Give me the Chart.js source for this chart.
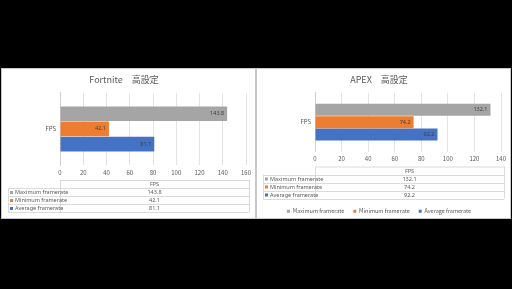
<!DOCTYPE html>
<html>
<head>
<meta charset="utf-8">
<script src="https://cdn.jsdelivr.net/npm/chart.js@4.4.1/dist/chart.umd.min.js"></script>
<style>
html, body { margin: 0; background: #000; width: 512px; height: 289px; overflow: hidden; }
.panel { position: absolute; top: 68px; width: 253px; height: 149px; background: #fff; border: 1px solid #c8c8c8; overflow: hidden; }
#p1 { left: 1px; }
#p2 { left: 256px; }
canvas { display: block; }
</style>
</head>
<body>
<div class="panel" id="p1"><canvas id="c1" width="253" height="149"></canvas></div>
<div class="panel" id="p2"><canvas id="c2" width="253" height="155"></canvas></div>
<script>
const category = ["FPS"];
const seriesNames = ["Maximum framerate", "Minimum framerate", "Average framerate"];
const seriesColors = ["#a5a5a5", "#ed7d31", "#4472c4"];
const fortniteValues = [143.8, 42.1, 81.1];
const apexValues = [132.1, 74.2, 92.2];
const fortniteTicks = [0, 20, 40, 60, 80, 100, 120, 140, 160];
const apexTicks = [0, 20, 40, 60, 80, 100, 120, 140];

Chart.defaults.font.family = '"Noto Sans CJK JP", "Noto Sans", sans-serif';
Chart.defaults.color = "#595959";

// value labels at the inner end of each bar
const barLabels = {
    id: "barLabels",
    afterDatasetsDraw(chart) {
        const ctx = chart.ctx;
        ctx.save();
        ctx.font = '5.5px "Noto Sans", sans-serif';
        ctx.fillStyle = "#404040";
        ctx.textAlign = "right";
        ctx.textBaseline = "middle";
        chart.data.datasets.forEach((ds, i) => {
            chart.getDatasetMeta(i).data.forEach((bar, j) => {
                ctx.fillText(ds.data[j].toFixed(1), bar.x - 3, bar.y);
            });
        });
        ctx.restore();
    }
};

// data table under the x axis
const dataTable = {
    id: "dataTable",
    afterDraw(chart) {
        const ctx = chart.ctx;
        const area = chart.chartArea;
        const top = chart.scales.x.top + 15;
        const rh = 8;
        const L = 6, M = area.left, R = area.right + 3;
        const rows = chart.data.datasets.length;
        ctx.save();
        ctx.strokeStyle = "#dadada";
        ctx.lineWidth = 1;
        ctx.beginPath();
        ctx.moveTo(M, top + 0.5); ctx.lineTo(R, top + 0.5);
        for (let i = 1; i <= rows + 1; i++) {
            const y = Math.round(top + rh * i) + 0.5;
            ctx.moveTo(L, y); ctx.lineTo(R, y);
        }
        ctx.moveTo(L + 0.5, top + rh); ctx.lineTo(L + 0.5, top + rh * (rows + 1));
        ctx.moveTo(Math.round(M) + 0.5, top); ctx.lineTo(Math.round(M) + 0.5, top + rh * (rows + 1));
        ctx.moveTo(Math.round(R) + 0.5, top); ctx.lineTo(Math.round(R) + 0.5, top + rh * (rows + 1));
        ctx.stroke();

        ctx.font = '5.5px "Noto Sans", sans-serif';
        ctx.fillStyle = "#595959";
        ctx.textBaseline = "middle";
        ctx.textAlign = "center";
        ctx.fillText(chart.data.labels[0], (M + R) / 2, top + rh / 2 + 0.5);
        chart.data.datasets.forEach((ds, i) => {
            const y = top + rh * (i + 1) + rh / 2 + 0.5;
            ctx.fillStyle = ds.backgroundColor;
            ctx.fillRect(L + 2, y - 1.5, 3, 3);
            ctx.fillStyle = "#595959";
            ctx.textAlign = "left";
            ctx.fillText(ds.label, L + 7, y);
            ctx.textAlign = "center";
            ctx.fillText(ds.data[0].toFixed(1), (M + R) / 2, y);
        });
        ctx.restore();
    }
};

function makeChart(canvasId, title, values, ticks, showLegend) {
    const max = ticks[ticks.length - 1];
    return new Chart(document.getElementById(canvasId), {
        type: "bar",
        data: {
            labels: category,
            datasets: seriesNames.map((name, i) => ({
                label: name,
                data: [values[i]],
                backgroundColor: seriesColors[i],
                categoryPercentage: 0.63,
                barPercentage: 0.97
            }))
        },
        options: {
            indexAxis: "y",
            responsive: false,
            animation: false,
            layout: { padding: { left: 0, right: 9, top: 0, bottom: showLegend ? 0 : 4 } },
            scales: {
                x: {
                    min: 0, max: max,
                    ticks: { stepSize: 20, padding: 4, font: { size: 6 }, color: "#595959" },
                    grid: { color: "#e3e3e3", drawTicks: false },
                    border: { display: false },
                    afterFit(scale) { scale.height = showLegend ? 48 : 49; }
                },
                y: {
                    ticks: { padding: 4, font: { size: 6 }, color: "#595959" },
                    grid: { display: false, drawTicks: false },
                    border: { color: "#d0d0d0" },
                    afterFit(scale) { scale.width = 58; }
                }
            },
            plugins: {
                title: {
                    display: true,
                    text: title,
                    color: "#595959",
                    font: { size: 9, weight: "normal" },
                    padding: { top: 5, bottom: 8 }
                },
                legend: {
                    display: showLegend,
                    position: "bottom",
                    labels: { boxWidth: 3, boxHeight: 3, padding: 9, font: { size: 5.5 }, color: "#595959" }
                },
                tooltip: { enabled: false }
            }
        },
        plugins: [barLabels, dataTable]
    });
}

makeChart("c1", "Fortnite\u3000高設定", fortniteValues, fortniteTicks, false);
makeChart("c2", "APEX\u3000高設定", apexValues, apexTicks, true);
</script>
</body>
</html>
